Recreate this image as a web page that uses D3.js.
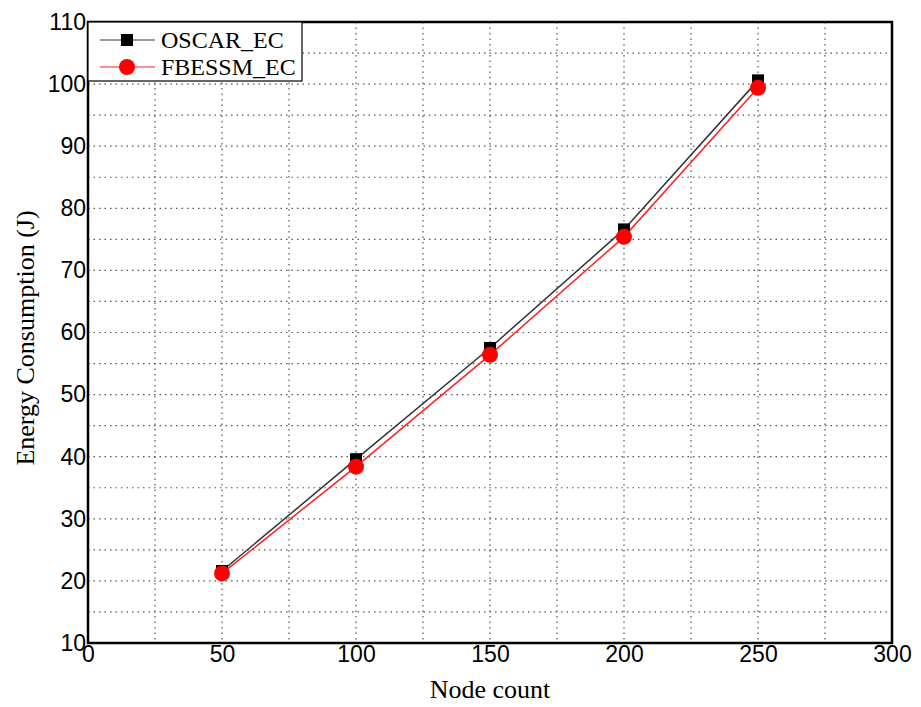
<!DOCTYPE html>
<html>
<head>
<meta charset="utf-8">
<script src="https://cdn.jsdelivr.net/npm/d3@7"></script>
<style>
  body { margin: 0; background: #fff; }
</style>
</head>
<body>
<script>
var nodeCounts = [50, 100, 150, 200, 250];
var oscarEC = [21.6, 39.6, 57.5, 76.6, 100.6];
var fbessmEC = [21.2, 38.4, 56.4, 75.4, 99.4];
var xTicks = [0, 50, 100, 150, 200, 250, 300];
var yTicks = [10, 20, 30, 40, 50, 60, 70, 80, 90, 100, 110];
var xGrid = [25, 50, 75, 100, 125, 150, 175, 200, 225, 250, 275];
var yGrid = [15, 20, 25, 30, 35, 40, 45, 50, 55, 60, 65, 70, 75, 80, 85, 90, 95, 100, 105];

var width = 921, height = 707;
var plotLeft = 88, plotRight = 892, plotTop = 22, plotBottom = 643;

var svg = d3.select('body').append('svg')
    .attr('width', width)
    .attr('height', height);

var x = d3.scaleLinear().domain([0, 300]).range([plotLeft, plotRight]);
var y = d3.scaleLinear().domain([10, 110]).range([plotBottom, plotTop]);

// dotted grid
svg.append('g').selectAll('line')
    .data(xGrid)
    .enter().append('line')
    .attr('x1', function(d) { return x(d); })
    .attr('x2', function(d) { return x(d); })
    .attr('y1', plotTop)
    .attr('y2', plotBottom)
    .attr('stroke', '#555')
    .attr('stroke-width', 1.2)
    .attr('stroke-dasharray', '1.5,4');

svg.append('g').selectAll('line')
    .data(yGrid)
    .enter().append('line')
    .attr('x1', plotLeft)
    .attr('x2', plotRight)
    .attr('y1', function(d) { return y(d); })
    .attr('y2', function(d) { return y(d); })
    .attr('stroke', '#555')
    .attr('stroke-width', 1.2)
    .attr('stroke-dasharray', '1.5,4');

// frame
svg.append('rect')
    .attr('x', plotLeft)
    .attr('y', plotTop)
    .attr('width', plotRight - plotLeft)
    .attr('height', plotBottom - plotTop)
    .attr('fill', 'none')
    .attr('stroke', '#000')
    .attr('stroke-width', 2.5);

// axes
var xAxis = svg.append('g')
    .attr('transform', 'translate(0,' + plotBottom + ')')
    .call(d3.axisBottom(x).tickValues(xTicks).tickSize(0).tickPadding(3));
var yAxis = svg.append('g')
    .attr('transform', 'translate(' + plotLeft + ',0)')
    .call(d3.axisLeft(y).tickValues(yTicks).tickSize(0).tickPadding(2));
[xAxis, yAxis].forEach(function(a) {
    a.select('.domain').remove();
    a.selectAll('text')
        .attr('fill', '#000')
        .style('font-family', '"Liberation Sans", Arial, sans-serif')
        .style('font-size', '23px');
});

// axis titles
svg.append('text')
    .attr('x', 490)
    .attr('y', 698)
    .attr('text-anchor', 'middle')
    .style('font-family', '"Liberation Serif", "Times New Roman", serif')
    .style('font-size', '26px')
    .text('Node count');

svg.append('text')
    .attr('transform', 'translate(34,338) rotate(-90)')
    .attr('text-anchor', 'middle')
    .style('font-family', '"Liberation Serif", "Times New Roman", serif')
    .style('font-size', '26px')
    .text('Energy Consumption (J)');

var line = d3.line()
    .x(function(d, i) { return x(nodeCounts[i]); })
    .y(function(d) { return y(d); });

svg.append('path')
    .datum(oscarEC)
    .attr('d', line)
    .attr('fill', 'none')
    .attr('stroke', '#333')
    .attr('stroke-width', 1.5);

svg.append('path')
    .datum(fbessmEC)
    .attr('d', line)
    .attr('fill', 'none')
    .attr('stroke', '#ff2020')
    .attr('stroke-width', 1.5);

var sq = 12;
svg.append('g').selectAll('rect')
    .data(oscarEC)
    .enter().append('rect')
    .attr('x', function(d, i) { return x(nodeCounts[i]) - sq / 2; })
    .attr('y', function(d) { return y(d) - sq / 2; })
    .attr('width', sq)
    .attr('height', sq)
    .attr('fill', '#000');

svg.append('g').selectAll('circle')
    .data(fbessmEC)
    .enter().append('circle')
    .attr('cx', function(d, i) { return x(nodeCounts[i]); })
    .attr('cy', function(d) { return y(d); })
    .attr('r', 8)
    .attr('fill', '#ff0000');

// legend
var legend = svg.append('g');
legend.append('rect')
    .attr('x', plotLeft)
    .attr('y', plotTop)
    .attr('width', 214)
    .attr('height', 59)
    .attr('fill', '#fff')
    .attr('stroke', '#000')
    .attr('stroke-width', 1.2);

var legendItems = [
    { name: 'OSCAR_EC', color: '#333', shape: 'square', cy: 40 },
    { name: 'FBESSM_EC', color: '#ff2020', shape: 'circle', cy: 67 }
];
legendItems.forEach(function(it) {
    legend.append('line')
        .attr('x1', 100).attr('x2', 155)
        .attr('y1', it.cy).attr('y2', it.cy)
        .attr('stroke', it.color)
        .attr('stroke-width', 1.2);
    if (it.shape === 'square') {
        legend.append('rect')
            .attr('x', 127 - 6).attr('y', it.cy - 6)
            .attr('width', 12).attr('height', 12)
            .attr('fill', '#000');
    } else {
        legend.append('circle')
            .attr('cx', 127).attr('cy', it.cy)
            .attr('r', 8)
            .attr('fill', '#ff0000');
    }
    legend.append('text')
        .attr('x', 161)
        .attr('y', it.cy + 8)
        .style('font-family', '"Liberation Serif", "Times New Roman", serif')
        .style('font-size', '24px')
        .text(it.name);
});
</script>
</body>
</html>
